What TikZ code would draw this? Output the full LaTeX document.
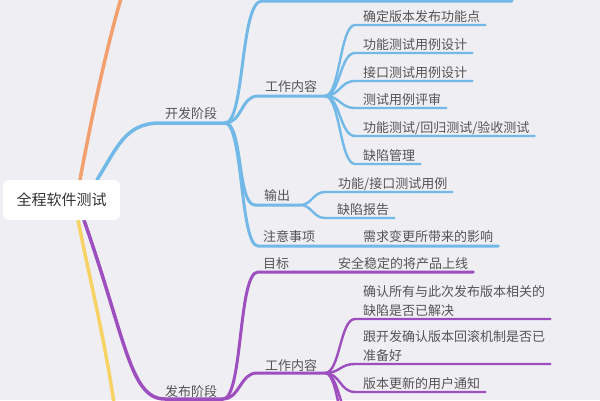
\documentclass[tikz,border=0pt]{standalone}
\usepackage{fontspec}
\setmainfont{Noto Sans CJK SC}
\definecolor{bgc}{HTML}{EEEEF3}
\definecolor{txtc}{HTML}{555555}
\definecolor{rootc}{HTML}{333333}
\definecolor{bluec}{HTML}{72B9E8}
\definecolor{purpc}{HTML}{9E4FBF}
\definecolor{orangec}{HTML}{F2A06E}
\definecolor{yellowc}{HTML}{F7D264}
\pgfdeclarelayer{paper}
\pgfdeclarelayer{wires}
\pgfsetlayers{paper,wires,main}
\tikzset{
  lab/.style={font=\fontsize{13}{19}\selectfont, text=txtc, inner sep=0pt, anchor=base west},
  rootbox/.style={font=\fontsize{15}{18}\selectfont, text=rootc, fill=white, rounded corners=6pt,
    minimum width=117pt, minimum height=40pt, inner sep=0pt},
  wmain/.style={line width=3.5pt, line cap=round},
  wsub/.style={line width=3pt, line cap=round},
  wleaf/.style={line width=2.4pt, line cap=round},
}
\newcommand\mmleaf[3]{\draw[#1] (#2) .. controls +(15,0) and +(-15,0) .. ([xshift=-8pt,yshift=-4pt]#3.base west) -- ([xshift=5pt,yshift=-4pt]#3.base east);}
\begin{document}
\begin{tikzpicture}[x=1pt,y=-1pt]
\useasboundingbox (0,0) rectangle (600,400);
\begin{pgfonlayer}{paper}
\fill[bgc] (0,0) rectangle (600,400);
\end{pgfonlayer}

% root
\node[rootbox] (root) at (61.5,200) {全程软件测试};

% stage labels
\node[lab] (kf) at (165,118) {开发阶段};
\node[lab] (fb) at (165,396) {发布阶段};

% dev stage branch points
\coordinate (kfB) at (225,123);
\coordinate (topS) at (262,1);
\coordinate (topE) at (512,1);
\node[lab] (gz1) at (265,91) {工作内容};
\coordinate (gz1B) at (325,96);
\node[lab] (sc) at (264,200) {输出};
\coordinate (scB) at (300,205);
\node[lab] (zy) at (263,241) {注意事项};
\node[lab] (zy1) at (363,241) {需求变更所带来的影响};

% dev work content leaves
\node[lab] (d1) at (363,21) {确定版本发布功能点};
\node[lab] (d2) at (363,49) {功能测试用例设计};
\node[lab] (d3) at (363,77) {接口测试用例设计};
\node[lab] (d4) at (363,104) {测试用例评审};
\node[lab] (d5) at (363,132) {功能测试/回归测试/验收测试};
\node[lab] (d6) at (363,160) {缺陷管理};

% dev output leaves
\node[lab] (o1) at (338,188) {功能/接口测试用例};
\node[lab] (o2) at (337,214) {缺陷报告};

% release stage
\coordinate (fbB) at (223,399);
\node[lab] (mb) at (263,268) {目标};
\node[lab] (mb1) at (338,268) {安全稳定的将产品上线};
\node[lab] (gz2) at (265,370) {工作内容};
\coordinate (gz2B) at (325,373);
\node[lab] (r1) at (363,315) {\parbox[b]{186pt}{确认所有与此次发布版本相关的\\缺陷是否已解决}};
\node[lab] (r2) at (363,360) {\parbox[b]{186pt}{跟开发确认版本回滚机制是否已\\准备好}};
\node[lab] (r3) at (363,388) {版本更新的用户通知};
\coordinate (r4) at (355,422);
\coordinate (r4e) at (500,422);
\coordinate (r5) at (355,450);
\coordinate (r5e) at (500,450);

\begin{pgfonlayer}{wires}
% root branches
\draw[wmain, draw=orangec] ([xshift=18.5pt]root.north) .. controls (91,120) and (108,40) .. (123,-8);
\draw[wmain, draw=bluec] ([xshift=35.5pt]root.north) .. controls (117,148) and (125,123) .. (160,123) -- (kfB);
\draw[wmain, draw=yellowc] ([xshift=16.5pt]root.south) .. controls (90,280) and (105,340) .. (115,410);
\draw[wmain, draw=purpc] ([xshift=22.5pt]root.south) .. controls (126,340) and (130,399) .. (165,399) -- (fbB);

% dev stage
\draw[wsub, draw=bluec] (kfB) .. controls +(20,0) and +(-22,0) .. (topS) -- (topE);
\draw[wsub, draw=bluec] (kfB) .. controls +(17,0) and +(-17,0) .. ([xshift=-7pt,yshift=-5pt]gz1.base west) -- (gz1B);
\draw[wsub, draw=bluec] (kfB) .. controls +(18,0) and +(-18,0) .. ([xshift=-9pt,yshift=-5pt]sc.base west) -- (scB);
\draw[wsub, draw=bluec] (kfB) .. controls +(18,0) and +(-18,0) .. ([xshift=-5pt,yshift=-5pt]zy.base west) -- ([xshift=5pt,yshift=-5pt]zy1.base east);

\mmleaf{wleaf, draw=bluec}{gz1B}{d1}
\mmleaf{wleaf, draw=bluec}{gz1B}{d2}
\mmleaf{wleaf, draw=bluec}{gz1B}{d3}
\mmleaf{wleaf, draw=bluec}{gz1B}{d4}
\mmleaf{wleaf, draw=bluec}{gz1B}{d5}
\mmleaf{wleaf, draw=bluec}{gz1B}{d6}

\draw[wleaf, draw=bluec] (scB) .. controls +(12,0) and +(-12,0) .. ([xshift=-13pt,yshift=-4pt]o1.base west) -- ([xshift=5pt,yshift=-4pt]o1.base east);
\draw[wleaf, draw=bluec] (scB) .. controls +(12,0) and +(-12,0) .. ([xshift=-12pt,yshift=-4pt]o2.base west) -- ([xshift=5pt,yshift=-4pt]o2.base east);

% release stage
\draw[wsub, draw=purpc] (fbB) .. controls +(20,0) and +(-20,0) .. ([xshift=-5pt,yshift=-4pt]mb.base west) -- ([xshift=5pt,yshift=-4pt]mb1.base east);
\draw[wsub, draw=purpc] (fbB) .. controls +(17,0) and +(-17,0) .. ([xshift=-8pt,yshift=-3pt]gz2.base west) -- (gz2B);

\draw[wleaf, draw=purpc] (gz2B) .. controls +(15,0) and +(-15,0) .. ([xshift=-8pt,yshift=-4pt]r1.base west) -- ([xshift=1pt,yshift=-4pt]r1.base east);
\draw[wleaf, draw=purpc] (gz2B) .. controls +(15,0) and +(-15,0) .. ([xshift=-8pt,yshift=-4pt]r2.base west) -- ([xshift=1pt,yshift=-4pt]r2.base east);
\mmleaf{wleaf, draw=purpc}{gz2B}{r3}
\draw[wleaf, draw=purpc] (gz2B) .. controls +(15,0) and +(-15,0) .. (r4) -- (r4e);
\draw[wleaf, draw=purpc] (gz2B) .. controls +(15,0) and +(-15,0) .. (r5) -- (r5e);
\end{pgfonlayer}
\end{tikzpicture}
\end{document}
